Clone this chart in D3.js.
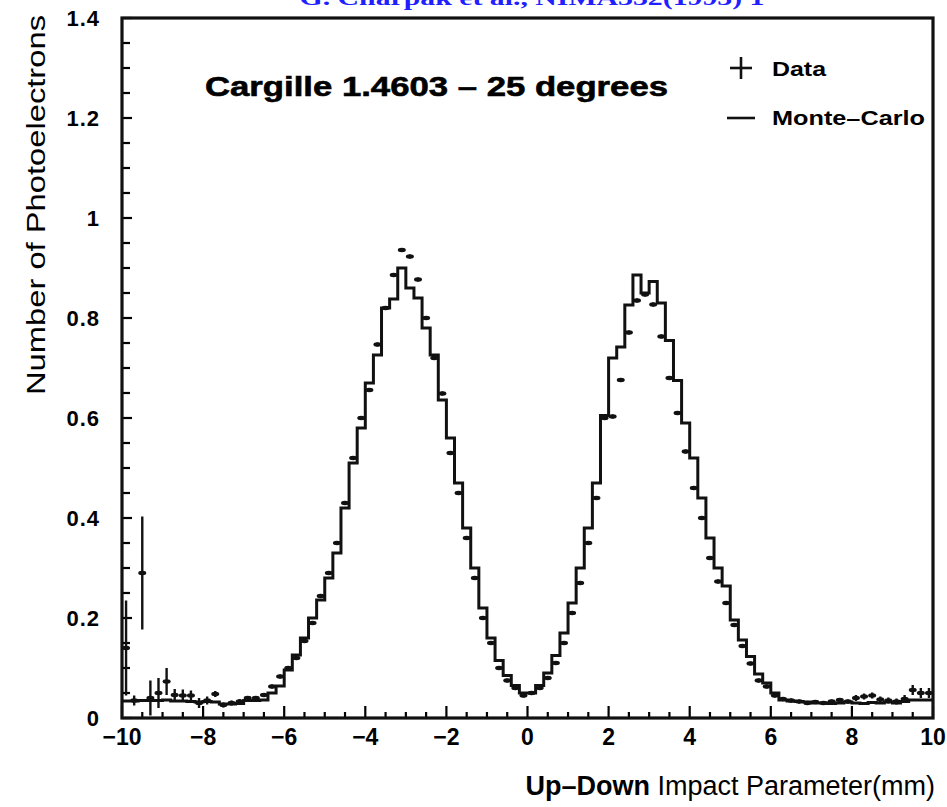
<!DOCTYPE html>
<html>
<head>
<meta charset="utf-8">
<script src="https://cdn.jsdelivr.net/npm/d3@7/dist/d3.min.js"></script>
<style>
  html, body { margin: 0; padding: 0; background: #fff; }
  svg { display: block; }
</style>
</head>
<body>
<script>
// ---------------- data ----------------
const binCenters = d3.range(100).map(i => +(-9.9 + 0.2 * i).toFixed(1));
const binWidth = 0.2;

const monteCarlo = [
  0.034, 0.034, 0.035, 0.035, 0.035, 0.036, 0.034, 0.034, 0.033, 0.032,
  0.033, 0.032, 0.028, 0.028, 0.029, 0.035, 0.035, 0.036, 0.050, 0.064,
  0.096, 0.126, 0.160, 0.200, 0.236, 0.280, 0.330, 0.420, 0.510, 0.580,
  0.670, 0.726, 0.820, 0.838, 0.900, 0.860, 0.840, 0.780, 0.726, 0.636,
  0.560, 0.470, 0.380, 0.300, 0.220, 0.160, 0.115, 0.085, 0.065, 0.050,
  0.050, 0.065, 0.090, 0.125, 0.170, 0.230, 0.300, 0.380, 0.470, 0.605,
  0.720, 0.742, 0.826, 0.886, 0.850, 0.873, 0.830, 0.755, 0.675, 0.590,
  0.520, 0.440, 0.360, 0.300, 0.264, 0.196, 0.156, 0.123, 0.088, 0.070,
  0.050, 0.036, 0.034, 0.033, 0.032, 0.030, 0.030, 0.029, 0.030, 0.032,
  0.030, 0.029, 0.031, 0.030, 0.032, 0.030, 0.033, 0.036, 0.036, 0.036
];

const dataValues = [
  0.140, 0.035, 0.290, 0.040, 0.050, 0.073, 0.046, 0.045, 0.045, 0.030,
  0.035, 0.048, 0.026, 0.030, 0.033, 0.040, 0.040, 0.046, 0.063, 0.083,
  0.100, 0.120, 0.154, 0.190, 0.244, 0.290, 0.350, 0.430, 0.520, 0.600,
  0.656, 0.747, 0.820, 0.886, 0.936, 0.923, 0.877, 0.800, 0.720, 0.649,
  0.530, 0.450, 0.360, 0.280, 0.200, 0.150, 0.100, 0.075, 0.060, 0.045,
  0.050, 0.060, 0.080, 0.110, 0.150, 0.210, 0.270, 0.350, 0.440, 0.600,
  0.603, 0.676, 0.771, 0.835, 0.847, 0.827, 0.763, 0.680, 0.610, 0.533,
  0.460, 0.400, 0.320, 0.273, 0.230, 0.186, 0.144, 0.109, 0.075, 0.063,
  0.045, 0.038, 0.035, 0.033, 0.030, 0.032, 0.030, 0.033, 0.036, 0.033,
  0.040, 0.043, 0.045, 0.037, 0.035, 0.033, 0.038, 0.056, 0.050, 0.050
];

const dataErrors = [
  0.095, 0.010, 0.113, 0.035, 0.030, 0.027, 0.012, 0.012, 0.010, 0.010,
  0.008, 0.006, 0.005, 0.005, 0.005, 0.004, 0.004, 0.004, 0.004, 0.004,
  0.004, 0.004, 0.004, 0.004, 0.004, 0.004, 0.004, 0.004, 0.004, 0.004,
  0.004, 0.004, 0.004, 0.004, 0.004, 0.004, 0.004, 0.004, 0.004, 0.004,
  0.004, 0.004, 0.004, 0.004, 0.004, 0.004, 0.004, 0.004, 0.004, 0.004,
  0.004, 0.004, 0.004, 0.004, 0.004, 0.004, 0.004, 0.004, 0.004, 0.004,
  0.004, 0.004, 0.004, 0.004, 0.004, 0.004, 0.004, 0.004, 0.004, 0.004,
  0.004, 0.004, 0.004, 0.004, 0.004, 0.004, 0.004, 0.004, 0.004, 0.004,
  0.004, 0.004, 0.004, 0.004, 0.004, 0.004, 0.004, 0.004, 0.004, 0.004,
  0.006, 0.006, 0.006, 0.006, 0.006, 0.006, 0.008, 0.010, 0.010, 0.010
];

const xTickValues = [-10, -8, -6, -4, -2, 0, 2, 4, 6, 8, 10];
const xTickLabels = ["\u221210", "\u22128", "\u22126", "\u22124", "\u22122", "0", "2", "4", "6", "8", "10"];
const yTickValues = [0, 0.2, 0.4, 0.6, 0.8, 1, 1.2, 1.4];
const yTickLabels = ["0", "0.2", "0.4", "0.6", "0.8", "1", "1.2", "1.4"];

const plotTitle = "Cargille 1.4603 \u2013 25 degrees";
const sourceNote = "G. Charpak et al., NIMA332(1993) 1";
const yAxisTitle = "Number of Photoelectrons";
const xAxisTitleBold = "Up\u2013Down";
const xAxisTitleRest = " Impact Parameter(mm)";
const legendLabels = ["Data", "Monte\u2013Carlo"];

// ---------------- layout ----------------
const W = 947, H = 807;
const L = 122, R = 933, T = 18, B = 718;
const font = "'Liberation Sans', Arial, Helvetica, sans-serif";

const svg = d3.select("body").append("svg").attr("width", W).attr("height", H);

const x = d3.scaleLinear().domain([-10, 10]).range([L, R]);
const y = d3.scaleLinear().domain([0, 1.4]).range([B, T]);

// source note (cut at top, as in the reference)
svg.append("text")
  .attr("x", 532).attr("y", 5)
  .attr("text-anchor", "middle")
  .attr("font-family", "'Liberation Serif', 'Times New Roman', serif")
  .attr("font-weight", "bold")
  .attr("font-size", 22)
  .attr("fill", "#1f1fff")
  .attr("textLength", 465)
  .attr("lengthAdjust", "spacingAndGlyphs")
  .text(sourceNote);

// ticks - x axis (inside, pointing up from bottom)
const xMinor = d3.range(-10, 10.001, 0.5);
svg.append("g").selectAll("line").data(xMinor).join("line")
  .attr("x1", d => x(d)).attr("x2", d => x(d))
  .attr("y1", B).attr("y2", d => B - (Math.abs(d % 2) < 1e-6 ? 12 : 6))
  .attr("stroke", "#000").attr("stroke-width", 2.2);

// ticks - y axis (inside, pointing right from left)
const yMinor = d3.range(0, 1.4001, 0.05);
svg.append("g").selectAll("line").data(yMinor).join("line")
  .attr("x1", L).attr("x2", d => L + (Math.abs((d / 0.2) - Math.round(d / 0.2)) < 1e-6 ? 10 : 8))
  .attr("y1", d => y(d)).attr("y2", d => y(d))
  .attr("stroke", "#000").attr("stroke-width", 2.2);

// frame
svg.append("rect")
  .attr("x", L).attr("y", T).attr("width", R - L).attr("height", B - T)
  .attr("fill", "none").attr("stroke", "#111").attr("stroke-width", 3.2);

// tick labels
svg.append("g").selectAll("text").data(xTickValues).join("text")
  .attr("x", d => x(d)).attr("y", 745)
  .attr("text-anchor", "middle")
  .attr("font-family", font).attr("font-weight", "bold").attr("font-size", 23)
  .text((d, i) => xTickLabels[i]);

svg.append("g").selectAll("text").data(yTickValues).join("text")
  .attr("x", 100).attr("y", d => y(d) + 8)
  .attr("text-anchor", "end")
  .attr("font-family", font).attr("font-weight", "bold").attr("font-size", 22)
  .attr("letter-spacing", 1)
  .text((d, i) => yTickLabels[i]);

// histogram (Monte-Carlo)
const stepPts = [];
binCenters.forEach((c, i) => {
  stepPts.push([c - binWidth / 2, monteCarlo[i]]);
  stepPts.push([c + binWidth / 2, monteCarlo[i]]);
});
const line = d3.line().x(d => x(d[0])).y(d => y(d[1]));
svg.append("path")
  .attr("d", line(stepPts))
  .attr("fill", "none").attr("stroke", "#111").attr("stroke-width", 3)
  .attr("stroke-linejoin", "miter");

// data points with error bars
const g = svg.append("g");
binCenters.forEach((c, i) => {
  const v = dataValues[i], e = dataErrors[i];
  g.append("line")
    .attr("x1", x(c)).attr("x2", x(c))
    .attr("y1", y(v - e)).attr("y2", y(v + e))
    .attr("stroke", "#111").attr("stroke-width", 2.4);
  g.append("ellipse")
    .attr("cx", x(c)).attr("cy", y(v))
    .attr("rx", 4).attr("ry", 2.2)
    .attr("fill", "#111");
});

// plot title
svg.append("text")
  .attr("x", 205).attr("y", 96)
  .attr("font-family", font).attr("font-weight", "bold").attr("font-size", 28)
  .attr("stroke", "#000").attr("stroke-width", 0.6)
  .attr("textLength", 463).attr("lengthAdjust", "spacingAndGlyphs")
  .text(plotTitle);

// legend
svg.append("line").attr("x1", 741).attr("x2", 741).attr("y1", 57).attr("y2", 79)
  .attr("stroke", "#111").attr("stroke-width", 2.6);
svg.append("line").attr("x1", 730).attr("x2", 752).attr("y1", 68).attr("y2", 68)
  .attr("stroke", "#111").attr("stroke-width", 2.6);
svg.append("line").attr("x1", 727).attr("x2", 755).attr("y1", 118).attr("y2", 118)
  .attr("stroke", "#111").attr("stroke-width", 2.6);
svg.append("text").attr("x", 772).attr("y", 76)
  .attr("font-family", font).attr("font-weight", "bold").attr("font-size", 20)
  .attr("textLength", 54).attr("lengthAdjust", "spacingAndGlyphs")
  .text(legendLabels[0]);
svg.append("text").attr("x", 772).attr("y", 125)
  .attr("font-family", font).attr("font-weight", "bold").attr("font-size", 20)
  .attr("textLength", 153).attr("lengthAdjust", "spacingAndGlyphs")
  .text(legendLabels[1]);

// y axis title
svg.append("text")
  .attr("transform", "translate(45,205) rotate(-90)")
  .attr("text-anchor", "middle")
  .attr("font-family", font).attr("font-size", 25)
  .attr("textLength", 380).attr("lengthAdjust", "spacingAndGlyphs")
  .text(yAxisTitle);

// x axis title
const xt = svg.append("text")
  .attr("x", 935).attr("y", 795)
  .attr("text-anchor", "end")
  .attr("font-family", font).attr("font-size", 27);
xt.append("tspan").attr("font-weight", "bold").text(xAxisTitleBold);
xt.append("tspan").text(xAxisTitleRest);
</script>
</body>
</html>
